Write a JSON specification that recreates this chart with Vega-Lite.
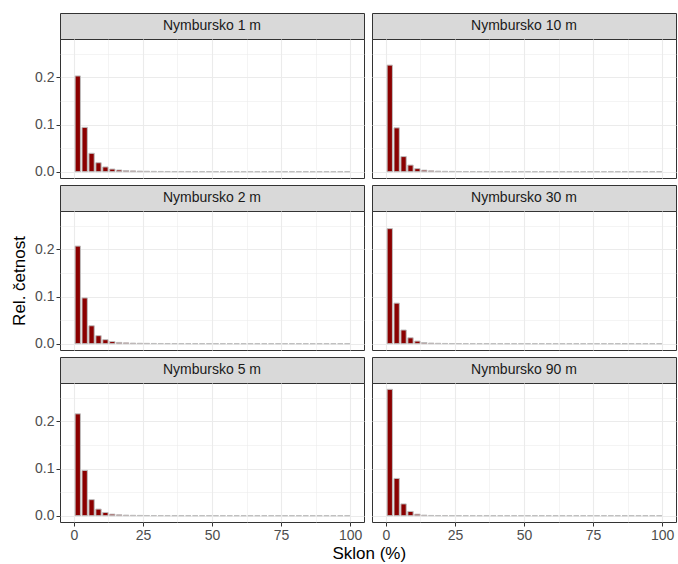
{
  "$schema": "https://vega.github.io/schema/vega-lite/v6.json",
  "padding": {"left": 10, "top": 12, "right": 2, "bottom": 2},
  "background": "white",
  "config": {
    "font": "Liberation Sans",
    "view": {"stroke": "#333333", "strokeWidth": 1},
    "axis": {
      "grid": true,
      "gridColor": "#ebebeb",
      "tickColor": "#333333",
      "tickSize": 4,
      "tickWidth": 1,
      "labelColor": "#4d4d4d",
      "labelFontSize": 14,
      "labelFont": "Liberation Sans",
      "labelPadding": 2,
      "titleFont": "Liberation Sans",
      "titleFontSize": 17,
      "titleFontWeight": "normal",
      "titleColor": "#000000",
      "titlePadding": 6
    }
  },
  "title": {"text": "Sklon (%)", "orient": "bottom", "anchor": "middle", "frame": "bounds", "dx": 26, "font": "Liberation Sans", "fontSize": 17, "fontWeight": "normal", "color": "#000000", "offset": 3},
  "datasets": {
    "d": [
      {"panel":"Nymbursko 1 m","lo":0,"hi":2.5,"f":0.203},{"panel":"Nymbursko 1 m","lo":2.5,"hi":5,"f":0.094},{"panel":"Nymbursko 1 m","lo":5,"hi":7.5,"f":0.039},{"panel":"Nymbursko 1 m","lo":7.5,"hi":10,"f":0.019},{"panel":"Nymbursko 1 m","lo":10,"hi":12.5,"f":0.010},{"panel":"Nymbursko 1 m","lo":12.5,"hi":15,"f":0.0056},{"panel":"Nymbursko 1 m","lo":15,"hi":17.5,"f":0.0036},{"panel":"Nymbursko 1 m","lo":17.5,"hi":20,"f":0.0024},{"panel":"Nymbursko 1 m","lo":20,"hi":22.5,"f":0.0017},{"panel":"Nymbursko 1 m","lo":22.5,"hi":25,"f":0.0012},{"panel":"Nymbursko 1 m","lo":25,"hi":27.5,"f":0.0009},{"panel":"Nymbursko 1 m","lo":27.5,"hi":30,"f":0.0007},{"panel":"Nymbursko 1 m","lo":30,"hi":32.5,"f":0.0005},{"panel":"Nymbursko 1 m","lo":32.5,"hi":35,"f":0.0004},{"panel":"Nymbursko 1 m","lo":35,"hi":37.5,"f":0.0003},{"panel":"Nymbursko 1 m","lo":37.5,"hi":40,"f":0.00025},{"panel":"Nymbursko 1 m","lo":40,"hi":42.5,"f":0.0002},{"panel":"Nymbursko 1 m","lo":42.5,"hi":45,"f":0.00015},{"panel":"Nymbursko 1 m","lo":45,"hi":47.5,"f":0.00012},{"panel":"Nymbursko 1 m","lo":47.5,"hi":50,"f":0.0001},{"panel":"Nymbursko 1 m","lo":50,"hi":52.5,"f":0.00008},{"panel":"Nymbursko 1 m","lo":52.5,"hi":55,"f":0.00006},{"panel":"Nymbursko 1 m","lo":55,"hi":57.5,"f":0.00005},{"panel":"Nymbursko 1 m","lo":57.5,"hi":60,"f":0.00004},{"panel":"Nymbursko 1 m","lo":60,"hi":62.5,"f":0.00003},{"panel":"Nymbursko 1 m","lo":62.5,"hi":65,"f":0.00003},{"panel":"Nymbursko 1 m","lo":65,"hi":67.5,"f":0.00002},{"panel":"Nymbursko 1 m","lo":67.5,"hi":70,"f":0.00002},{"panel":"Nymbursko 1 m","lo":70,"hi":72.5,"f":0.00001},{"panel":"Nymbursko 1 m","lo":72.5,"hi":75,"f":0.00001},{"panel":"Nymbursko 1 m","lo":75,"hi":77.5,"f":0.00001},{"panel":"Nymbursko 1 m","lo":77.5,"hi":80,"f":0.00001},{"panel":"Nymbursko 1 m","lo":80,"hi":82.5,"f":0},{"panel":"Nymbursko 1 m","lo":82.5,"hi":85,"f":0},{"panel":"Nymbursko 1 m","lo":85,"hi":87.5,"f":0},{"panel":"Nymbursko 1 m","lo":87.5,"hi":90,"f":0},{"panel":"Nymbursko 1 m","lo":90,"hi":92.5,"f":0},{"panel":"Nymbursko 1 m","lo":92.5,"hi":95,"f":0},{"panel":"Nymbursko 1 m","lo":95,"hi":97.5,"f":0},{"panel":"Nymbursko 1 m","lo":97.5,"hi":100,"f":0},

      {"panel":"Nymbursko 10 m","lo":0,"hi":2.5,"f":0.226},{"panel":"Nymbursko 10 m","lo":2.5,"hi":5,"f":0.093},{"panel":"Nymbursko 10 m","lo":5,"hi":7.5,"f":0.032},{"panel":"Nymbursko 10 m","lo":7.5,"hi":10,"f":0.014},{"panel":"Nymbursko 10 m","lo":10,"hi":12.5,"f":0.0065},{"panel":"Nymbursko 10 m","lo":12.5,"hi":15,"f":0.0033},{"panel":"Nymbursko 10 m","lo":15,"hi":17.5,"f":0.0019},{"panel":"Nymbursko 10 m","lo":17.5,"hi":20,"f":0.0012},{"panel":"Nymbursko 10 m","lo":20,"hi":22.5,"f":0.0008},{"panel":"Nymbursko 10 m","lo":22.5,"hi":25,"f":0.0006},{"panel":"Nymbursko 10 m","lo":25,"hi":27.5,"f":0.0004},{"panel":"Nymbursko 10 m","lo":27.5,"hi":30,"f":0.0003},{"panel":"Nymbursko 10 m","lo":30,"hi":32.5,"f":0.00022},{"panel":"Nymbursko 10 m","lo":32.5,"hi":35,"f":0.00016},{"panel":"Nymbursko 10 m","lo":35,"hi":37.5,"f":0.00012},{"panel":"Nymbursko 10 m","lo":37.5,"hi":40,"f":0.0001},{"panel":"Nymbursko 10 m","lo":40,"hi":42.5,"f":0.00008},{"panel":"Nymbursko 10 m","lo":42.5,"hi":45,"f":0.00006},{"panel":"Nymbursko 10 m","lo":45,"hi":47.5,"f":0.00005},{"panel":"Nymbursko 10 m","lo":47.5,"hi":50,"f":0.00004},{"panel":"Nymbursko 10 m","lo":50,"hi":52.5,"f":0.00003},{"panel":"Nymbursko 10 m","lo":52.5,"hi":55,"f":0.00002},{"panel":"Nymbursko 10 m","lo":55,"hi":57.5,"f":0.00002},{"panel":"Nymbursko 10 m","lo":57.5,"hi":60,"f":0.00001},{"panel":"Nymbursko 10 m","lo":60,"hi":62.5,"f":0.00001},{"panel":"Nymbursko 10 m","lo":62.5,"hi":65,"f":0.00001},{"panel":"Nymbursko 10 m","lo":65,"hi":67.5,"f":0},{"panel":"Nymbursko 10 m","lo":67.5,"hi":70,"f":0},{"panel":"Nymbursko 10 m","lo":70,"hi":72.5,"f":0},{"panel":"Nymbursko 10 m","lo":72.5,"hi":75,"f":0},{"panel":"Nymbursko 10 m","lo":75,"hi":77.5,"f":0},{"panel":"Nymbursko 10 m","lo":77.5,"hi":80,"f":0},{"panel":"Nymbursko 10 m","lo":80,"hi":82.5,"f":0},{"panel":"Nymbursko 10 m","lo":82.5,"hi":85,"f":0},{"panel":"Nymbursko 10 m","lo":85,"hi":87.5,"f":0},{"panel":"Nymbursko 10 m","lo":87.5,"hi":90,"f":0},{"panel":"Nymbursko 10 m","lo":90,"hi":92.5,"f":0},{"panel":"Nymbursko 10 m","lo":92.5,"hi":95,"f":0},{"panel":"Nymbursko 10 m","lo":95,"hi":97.5,"f":0},{"panel":"Nymbursko 10 m","lo":97.5,"hi":100,"f":0},

      {"panel":"Nymbursko 2 m","lo":0,"hi":2.5,"f":0.207},{"panel":"Nymbursko 2 m","lo":2.5,"hi":5,"f":0.097},{"panel":"Nymbursko 2 m","lo":5,"hi":7.5,"f":0.038},{"panel":"Nymbursko 2 m","lo":7.5,"hi":10,"f":0.017},{"panel":"Nymbursko 2 m","lo":10,"hi":12.5,"f":0.0085},{"panel":"Nymbursko 2 m","lo":12.5,"hi":15,"f":0.0045},{"panel":"Nymbursko 2 m","lo":15,"hi":17.5,"f":0.0027},{"panel":"Nymbursko 2 m","lo":17.5,"hi":20,"f":0.0018},{"panel":"Nymbursko 2 m","lo":20,"hi":22.5,"f":0.0012},{"panel":"Nymbursko 2 m","lo":22.5,"hi":25,"f":0.0009},{"panel":"Nymbursko 2 m","lo":25,"hi":27.5,"f":0.0007},{"panel":"Nymbursko 2 m","lo":27.5,"hi":30,"f":0.0005},{"panel":"Nymbursko 2 m","lo":30,"hi":32.5,"f":0.0004},{"panel":"Nymbursko 2 m","lo":32.5,"hi":35,"f":0.0003},{"panel":"Nymbursko 2 m","lo":35,"hi":37.5,"f":0.00022},{"panel":"Nymbursko 2 m","lo":37.5,"hi":40,"f":0.00017},{"panel":"Nymbursko 2 m","lo":40,"hi":42.5,"f":0.00013},{"panel":"Nymbursko 2 m","lo":42.5,"hi":45,"f":0.0001},{"panel":"Nymbursko 2 m","lo":45,"hi":47.5,"f":0.00008},{"panel":"Nymbursko 2 m","lo":47.5,"hi":50,"f":0.00006},{"panel":"Nymbursko 2 m","lo":50,"hi":52.5,"f":0.00005},{"panel":"Nymbursko 2 m","lo":52.5,"hi":55,"f":0.00004},{"panel":"Nymbursko 2 m","lo":55,"hi":57.5,"f":0.00003},{"panel":"Nymbursko 2 m","lo":57.5,"hi":60,"f":0.00002},{"panel":"Nymbursko 2 m","lo":60,"hi":62.5,"f":0.00002},{"panel":"Nymbursko 2 m","lo":62.5,"hi":65,"f":0.00001},{"panel":"Nymbursko 2 m","lo":65,"hi":67.5,"f":0.00001},{"panel":"Nymbursko 2 m","lo":67.5,"hi":70,"f":0.00001},{"panel":"Nymbursko 2 m","lo":70,"hi":72.5,"f":0},{"panel":"Nymbursko 2 m","lo":72.5,"hi":75,"f":0},{"panel":"Nymbursko 2 m","lo":75,"hi":77.5,"f":0},{"panel":"Nymbursko 2 m","lo":77.5,"hi":80,"f":0},{"panel":"Nymbursko 2 m","lo":80,"hi":82.5,"f":0},{"panel":"Nymbursko 2 m","lo":82.5,"hi":85,"f":0},{"panel":"Nymbursko 2 m","lo":85,"hi":87.5,"f":0},{"panel":"Nymbursko 2 m","lo":87.5,"hi":90,"f":0},{"panel":"Nymbursko 2 m","lo":90,"hi":92.5,"f":0},{"panel":"Nymbursko 2 m","lo":92.5,"hi":95,"f":0},{"panel":"Nymbursko 2 m","lo":95,"hi":97.5,"f":0},{"panel":"Nymbursko 2 m","lo":97.5,"hi":100,"f":0},

      {"panel":"Nymbursko 30 m","lo":0,"hi":2.5,"f":0.244},{"panel":"Nymbursko 30 m","lo":2.5,"hi":5,"f":0.086},{"panel":"Nymbursko 30 m","lo":5,"hi":7.5,"f":0.029},{"panel":"Nymbursko 30 m","lo":7.5,"hi":10,"f":0.0125},{"panel":"Nymbursko 30 m","lo":10,"hi":12.5,"f":0.0055},{"panel":"Nymbursko 30 m","lo":12.5,"hi":15,"f":0.0025},{"panel":"Nymbursko 30 m","lo":15,"hi":17.5,"f":0.0013},{"panel":"Nymbursko 30 m","lo":17.5,"hi":20,"f":0.0008},{"panel":"Nymbursko 30 m","lo":20,"hi":22.5,"f":0.0005},{"panel":"Nymbursko 30 m","lo":22.5,"hi":25,"f":0.0003},{"panel":"Nymbursko 30 m","lo":25,"hi":27.5,"f":0.0002},{"panel":"Nymbursko 30 m","lo":27.5,"hi":30,"f":0.00015},{"panel":"Nymbursko 30 m","lo":30,"hi":32.5,"f":0.0001},{"panel":"Nymbursko 30 m","lo":32.5,"hi":35,"f":0.00008},{"panel":"Nymbursko 30 m","lo":35,"hi":37.5,"f":0.00006},{"panel":"Nymbursko 30 m","lo":37.5,"hi":40,"f":0.00004},{"panel":"Nymbursko 30 m","lo":40,"hi":42.5,"f":0.00003},{"panel":"Nymbursko 30 m","lo":42.5,"hi":45,"f":0.00002},{"panel":"Nymbursko 30 m","lo":45,"hi":47.5,"f":0.00002},{"panel":"Nymbursko 30 m","lo":47.5,"hi":50,"f":0.00001},{"panel":"Nymbursko 30 m","lo":50,"hi":52.5,"f":0.00001},{"panel":"Nymbursko 30 m","lo":52.5,"hi":55,"f":0},{"panel":"Nymbursko 30 m","lo":55,"hi":57.5,"f":0},{"panel":"Nymbursko 30 m","lo":57.5,"hi":60,"f":0},{"panel":"Nymbursko 30 m","lo":60,"hi":62.5,"f":0},{"panel":"Nymbursko 30 m","lo":62.5,"hi":65,"f":0},{"panel":"Nymbursko 30 m","lo":65,"hi":67.5,"f":0},{"panel":"Nymbursko 30 m","lo":67.5,"hi":70,"f":0},{"panel":"Nymbursko 30 m","lo":70,"hi":72.5,"f":0},{"panel":"Nymbursko 30 m","lo":72.5,"hi":75,"f":0},{"panel":"Nymbursko 30 m","lo":75,"hi":77.5,"f":0},{"panel":"Nymbursko 30 m","lo":77.5,"hi":80,"f":0},{"panel":"Nymbursko 30 m","lo":80,"hi":82.5,"f":0},{"panel":"Nymbursko 30 m","lo":82.5,"hi":85,"f":0},{"panel":"Nymbursko 30 m","lo":85,"hi":87.5,"f":0},{"panel":"Nymbursko 30 m","lo":87.5,"hi":90,"f":0},{"panel":"Nymbursko 30 m","lo":90,"hi":92.5,"f":0},{"panel":"Nymbursko 30 m","lo":92.5,"hi":95,"f":0},{"panel":"Nymbursko 30 m","lo":95,"hi":97.5,"f":0},{"panel":"Nymbursko 30 m","lo":97.5,"hi":100,"f":0},

      {"panel":"Nymbursko 5 m","lo":0,"hi":2.5,"f":0.216},{"panel":"Nymbursko 5 m","lo":2.5,"hi":5,"f":0.096},{"panel":"Nymbursko 5 m","lo":5,"hi":7.5,"f":0.034},{"panel":"Nymbursko 5 m","lo":7.5,"hi":10,"f":0.014},{"panel":"Nymbursko 5 m","lo":10,"hi":12.5,"f":0.0068},{"panel":"Nymbursko 5 m","lo":12.5,"hi":15,"f":0.0033},{"panel":"Nymbursko 5 m","lo":15,"hi":17.5,"f":0.0019},{"panel":"Nymbursko 5 m","lo":17.5,"hi":20,"f":0.0012},{"panel":"Nymbursko 5 m","lo":20,"hi":22.5,"f":0.0008},{"panel":"Nymbursko 5 m","lo":22.5,"hi":25,"f":0.0006},{"panel":"Nymbursko 5 m","lo":25,"hi":27.5,"f":0.0004},{"panel":"Nymbursko 5 m","lo":27.5,"hi":30,"f":0.0003},{"panel":"Nymbursko 5 m","lo":30,"hi":32.5,"f":0.0002},{"panel":"Nymbursko 5 m","lo":32.5,"hi":35,"f":0.00015},{"panel":"Nymbursko 5 m","lo":35,"hi":37.5,"f":0.00011},{"panel":"Nymbursko 5 m","lo":37.5,"hi":40,"f":0.00008},{"panel":"Nymbursko 5 m","lo":40,"hi":42.5,"f":0.00006},{"panel":"Nymbursko 5 m","lo":42.5,"hi":45,"f":0.00005},{"panel":"Nymbursko 5 m","lo":45,"hi":47.5,"f":0.00004},{"panel":"Nymbursko 5 m","lo":47.5,"hi":50,"f":0.00003},{"panel":"Nymbursko 5 m","lo":50,"hi":52.5,"f":0.00002},{"panel":"Nymbursko 5 m","lo":52.5,"hi":55,"f":0.00002},{"panel":"Nymbursko 5 m","lo":55,"hi":57.5,"f":0.00001},{"panel":"Nymbursko 5 m","lo":57.5,"hi":60,"f":0.00001},{"panel":"Nymbursko 5 m","lo":60,"hi":62.5,"f":0.00001},{"panel":"Nymbursko 5 m","lo":62.5,"hi":65,"f":0},{"panel":"Nymbursko 5 m","lo":65,"hi":67.5,"f":0},{"panel":"Nymbursko 5 m","lo":67.5,"hi":70,"f":0},{"panel":"Nymbursko 5 m","lo":70,"hi":72.5,"f":0},{"panel":"Nymbursko 5 m","lo":72.5,"hi":75,"f":0},{"panel":"Nymbursko 5 m","lo":75,"hi":77.5,"f":0},{"panel":"Nymbursko 5 m","lo":77.5,"hi":80,"f":0},{"panel":"Nymbursko 5 m","lo":80,"hi":82.5,"f":0},{"panel":"Nymbursko 5 m","lo":82.5,"hi":85,"f":0},{"panel":"Nymbursko 5 m","lo":85,"hi":87.5,"f":0},{"panel":"Nymbursko 5 m","lo":87.5,"hi":90,"f":0},{"panel":"Nymbursko 5 m","lo":90,"hi":92.5,"f":0},{"panel":"Nymbursko 5 m","lo":92.5,"hi":95,"f":0},{"panel":"Nymbursko 5 m","lo":95,"hi":97.5,"f":0},{"panel":"Nymbursko 5 m","lo":97.5,"hi":100,"f":0},

      {"panel":"Nymbursko 90 m","lo":0,"hi":2.5,"f":0.268},{"panel":"Nymbursko 90 m","lo":2.5,"hi":5,"f":0.079},{"panel":"Nymbursko 90 m","lo":5,"hi":7.5,"f":0.025},{"panel":"Nymbursko 90 m","lo":7.5,"hi":10,"f":0.009},{"panel":"Nymbursko 90 m","lo":10,"hi":12.5,"f":0.0032},{"panel":"Nymbursko 90 m","lo":12.5,"hi":15,"f":0.0012},{"panel":"Nymbursko 90 m","lo":15,"hi":17.5,"f":0.0005},{"panel":"Nymbursko 90 m","lo":17.5,"hi":20,"f":0.0003},{"panel":"Nymbursko 90 m","lo":20,"hi":22.5,"f":0.0002},{"panel":"Nymbursko 90 m","lo":22.5,"hi":25,"f":0.0001},{"panel":"Nymbursko 90 m","lo":25,"hi":27.5,"f":0.00007},{"panel":"Nymbursko 90 m","lo":27.5,"hi":30,"f":0.00005},{"panel":"Nymbursko 90 m","lo":30,"hi":32.5,"f":0.00003},{"panel":"Nymbursko 90 m","lo":32.5,"hi":35,"f":0.00002},{"panel":"Nymbursko 90 m","lo":35,"hi":37.5,"f":0.00001},{"panel":"Nymbursko 90 m","lo":37.5,"hi":40,"f":0.00001},{"panel":"Nymbursko 90 m","lo":40,"hi":42.5,"f":0},{"panel":"Nymbursko 90 m","lo":42.5,"hi":45,"f":0},{"panel":"Nymbursko 90 m","lo":45,"hi":47.5,"f":0},{"panel":"Nymbursko 90 m","lo":47.5,"hi":50,"f":0},{"panel":"Nymbursko 90 m","lo":50,"hi":52.5,"f":0},{"panel":"Nymbursko 90 m","lo":52.5,"hi":55,"f":0},{"panel":"Nymbursko 90 m","lo":55,"hi":57.5,"f":0},{"panel":"Nymbursko 90 m","lo":57.5,"hi":60,"f":0},{"panel":"Nymbursko 90 m","lo":60,"hi":62.5,"f":0},{"panel":"Nymbursko 90 m","lo":62.5,"hi":65,"f":0},{"panel":"Nymbursko 90 m","lo":65,"hi":67.5,"f":0},{"panel":"Nymbursko 90 m","lo":67.5,"hi":70,"f":0},{"panel":"Nymbursko 90 m","lo":70,"hi":72.5,"f":0},{"panel":"Nymbursko 90 m","lo":72.5,"hi":75,"f":0},{"panel":"Nymbursko 90 m","lo":75,"hi":77.5,"f":0},{"panel":"Nymbursko 90 m","lo":77.5,"hi":80,"f":0},{"panel":"Nymbursko 90 m","lo":80,"hi":82.5,"f":0},{"panel":"Nymbursko 90 m","lo":82.5,"hi":85,"f":0},{"panel":"Nymbursko 90 m","lo":85,"hi":87.5,"f":0},{"panel":"Nymbursko 90 m","lo":87.5,"hi":90,"f":0},{"panel":"Nymbursko 90 m","lo":90,"hi":92.5,"f":0},{"panel":"Nymbursko 90 m","lo":92.5,"hi":95,"f":0},{"panel":"Nymbursko 90 m","lo":95,"hi":97.5,"f":0},{"panel":"Nymbursko 90 m","lo":97.5,"hi":100,"f":0}
    ]
  },
  "columns": 2,
  "spacing": {"row": 0, "column": 8},
  "bounds": "flush",
  "concat": [
    {"data": {"name": "d"}, "transform": [{"filter": "datum.panel === 'Nymbursko 1 m'"}, {"aggregate": [{"op": "count", "as": "n"}], "groupby": ["panel"]}], "width": 304, "height": 26, "view": {"fill": "#d9d9d9", "stroke": "#333333"}, "mark": {"type": "text", "fontSize": 14, "color": "#1a1a1a", "font": "Liberation Sans"}, "encoding": {"text": {"field": "panel"}}},
    {"data": {"name": "d"}, "transform": [{"filter": "datum.panel === 'Nymbursko 10 m'"}, {"aggregate": [{"op": "count", "as": "n"}], "groupby": ["panel"]}], "width": 304, "height": 26, "view": {"fill": "#d9d9d9", "stroke": "#333333"}, "mark": {"type": "text", "fontSize": 14, "color": "#1a1a1a", "font": "Liberation Sans"}, "encoding": {"text": {"field": "panel"}}},

    {"data": {"name": "d"}, "transform": [{"filter": "datum.panel === 'Nymbursko 1 m'"}], "width": 304, "height": 139,
     "mark": {"type": "bar", "color": "#8b0000", "stroke": "#bebebe", "strokeWidth": 1, "binSpacing": 1.6},
     "encoding": {
       "x": {"field": "lo", "type": "quantitative", "bin": "binned", "scale": {"domain": [-5, 105], "nice": false, "zero": false}, "axis": {"grid": true, "values": [0,12.5,25,37.5,50,62.5,75,87.5,100], "labels": false, "ticks": false, "domain": false, "title": null, "gridWidth": {"condition": {"test": "datum.value % 25 === 0", "value": 1.1}, "value": 0.55}}},
       "x2": {"field": "hi"},
       "y": {"field": "f", "type": "quantitative", "scale": {"domain": [-0.0134, 0.2814], "nice": false, "zero": false}, "axis": {"grid": true, "values": [0,0.05,0.1,0.15,0.2,0.25], "domain": false, "title": null, "labelExpr": "round(datum.value*100) % 10 === 0 ? format(datum.value, '.1f') : ''", "tickOpacity": {"condition": {"test": "round(datum.value*100) % 10 === 0", "value": 1}, "value": 0}, "gridWidth": {"condition": {"test": "round(datum.value*100) % 10 === 0", "value": 1.1}, "value": 0.55}}},
       "y2": {"datum": 0}
     }},
    {"data": {"name": "d"}, "transform": [{"filter": "datum.panel === 'Nymbursko 10 m'"}], "width": 304, "height": 139,
     "mark": {"type": "bar", "color": "#8b0000", "stroke": "#bebebe", "strokeWidth": 1, "binSpacing": 1.6},
     "encoding": {
       "x": {"field": "lo", "type": "quantitative", "bin": "binned", "scale": {"domain": [-5, 105], "nice": false, "zero": false}, "axis": {"grid": true, "values": [0,12.5,25,37.5,50,62.5,75,87.5,100], "labels": false, "ticks": false, "domain": false, "title": null, "gridWidth": {"condition": {"test": "datum.value % 25 === 0", "value": 1.1}, "value": 0.55}}},
       "x2": {"field": "hi"},
       "y": {"field": "f", "type": "quantitative", "scale": {"domain": [-0.0134, 0.2814], "nice": false, "zero": false}, "axis": {"grid": true, "values": [0,0.05,0.1,0.15,0.2,0.25], "labels": false, "ticks": false, "domain": false, "title": null, "gridWidth": {"condition": {"test": "round(datum.value*100) % 10 === 0", "value": 1.1}, "value": 0.55}}},
       "y2": {"datum": 0}
     }},

    {"data": {"name": "d"}, "transform": [{"filter": "false"}], "width": 304, "height": 7, "view": {"stroke": null}, "mark": "point", "encoding": {}},
    {"data": {"name": "d"}, "transform": [{"filter": "false"}], "width": 304, "height": 7, "view": {"stroke": null}, "mark": "point", "encoding": {}},

    {"data": {"name": "d"}, "transform": [{"filter": "datum.panel === 'Nymbursko 2 m'"}, {"aggregate": [{"op": "count", "as": "n"}], "groupby": ["panel"]}], "width": 304, "height": 26, "view": {"fill": "#d9d9d9", "stroke": "#333333"}, "mark": {"type": "text", "fontSize": 14, "color": "#1a1a1a", "font": "Liberation Sans"}, "encoding": {"text": {"field": "panel"}}},
    {"data": {"name": "d"}, "transform": [{"filter": "datum.panel === 'Nymbursko 30 m'"}, {"aggregate": [{"op": "count", "as": "n"}], "groupby": ["panel"]}], "width": 304, "height": 26, "view": {"fill": "#d9d9d9", "stroke": "#333333"}, "mark": {"type": "text", "fontSize": 14, "color": "#1a1a1a", "font": "Liberation Sans"}, "encoding": {"text": {"field": "panel"}}},

    {"data": {"name": "d"}, "transform": [{"filter": "datum.panel === 'Nymbursko 2 m'"}], "width": 304, "height": 139,
     "mark": {"type": "bar", "color": "#8b0000", "stroke": "#bebebe", "strokeWidth": 1, "binSpacing": 1.6},
     "encoding": {
       "x": {"field": "lo", "type": "quantitative", "bin": "binned", "scale": {"domain": [-5, 105], "nice": false, "zero": false}, "axis": {"grid": true, "values": [0,12.5,25,37.5,50,62.5,75,87.5,100], "labels": false, "ticks": false, "domain": false, "title": null, "gridWidth": {"condition": {"test": "datum.value % 25 === 0", "value": 1.1}, "value": 0.55}}},
       "x2": {"field": "hi"},
       "y": {"field": "f", "type": "quantitative", "scale": {"domain": [-0.0134, 0.2814], "nice": false, "zero": false}, "axis": {"grid": true, "values": [0,0.05,0.1,0.15,0.2,0.25], "domain": false, "title": "Rel. četnost", "labelExpr": "round(datum.value*100) % 10 === 0 ? format(datum.value, '.1f') : ''", "tickOpacity": {"condition": {"test": "round(datum.value*100) % 10 === 0", "value": 1}, "value": 0}, "gridWidth": {"condition": {"test": "round(datum.value*100) % 10 === 0", "value": 1.1}, "value": 0.55}}},
       "y2": {"datum": 0}
     }},
    {"data": {"name": "d"}, "transform": [{"filter": "datum.panel === 'Nymbursko 30 m'"}], "width": 304, "height": 139,
     "mark": {"type": "bar", "color": "#8b0000", "stroke": "#bebebe", "strokeWidth": 1, "binSpacing": 1.6},
     "encoding": {
       "x": {"field": "lo", "type": "quantitative", "bin": "binned", "scale": {"domain": [-5, 105], "nice": false, "zero": false}, "axis": {"grid": true, "values": [0,12.5,25,37.5,50,62.5,75,87.5,100], "labels": false, "ticks": false, "domain": false, "title": null, "gridWidth": {"condition": {"test": "datum.value % 25 === 0", "value": 1.1}, "value": 0.55}}},
       "x2": {"field": "hi"},
       "y": {"field": "f", "type": "quantitative", "scale": {"domain": [-0.0134, 0.2814], "nice": false, "zero": false}, "axis": {"grid": true, "values": [0,0.05,0.1,0.15,0.2,0.25], "labels": false, "ticks": false, "domain": false, "title": null, "gridWidth": {"condition": {"test": "round(datum.value*100) % 10 === 0", "value": 1.1}, "value": 0.55}}},
       "y2": {"datum": 0}
     }},

    {"data": {"name": "d"}, "transform": [{"filter": "false"}], "width": 304, "height": 7, "view": {"stroke": null}, "mark": "point", "encoding": {}},
    {"data": {"name": "d"}, "transform": [{"filter": "false"}], "width": 304, "height": 7, "view": {"stroke": null}, "mark": "point", "encoding": {}},

    {"data": {"name": "d"}, "transform": [{"filter": "datum.panel === 'Nymbursko 5 m'"}, {"aggregate": [{"op": "count", "as": "n"}], "groupby": ["panel"]}], "width": 304, "height": 26, "view": {"fill": "#d9d9d9", "stroke": "#333333"}, "mark": {"type": "text", "fontSize": 14, "color": "#1a1a1a", "font": "Liberation Sans"}, "encoding": {"text": {"field": "panel"}}},
    {"data": {"name": "d"}, "transform": [{"filter": "datum.panel === 'Nymbursko 90 m'"}, {"aggregate": [{"op": "count", "as": "n"}], "groupby": ["panel"]}], "width": 304, "height": 26, "view": {"fill": "#d9d9d9", "stroke": "#333333"}, "mark": {"type": "text", "fontSize": 14, "color": "#1a1a1a", "font": "Liberation Sans"}, "encoding": {"text": {"field": "panel"}}},

    {"data": {"name": "d"}, "transform": [{"filter": "datum.panel === 'Nymbursko 5 m'"}], "width": 304, "height": 139,
     "mark": {"type": "bar", "color": "#8b0000", "stroke": "#bebebe", "strokeWidth": 1, "binSpacing": 1.6},
     "encoding": {
       "x": {"field": "lo", "type": "quantitative", "bin": "binned", "scale": {"domain": [-5, 105], "nice": false, "zero": false}, "axis": {"grid": true, "values": [0,12.5,25,37.5,50,62.5,75,87.5,100], "domain": false, "title": null, "labelExpr": "datum.value % 25 === 0 ? datum.label : ''", "tickOpacity": {"condition": {"test": "datum.value % 25 === 0", "value": 1}, "value": 0}, "gridWidth": {"condition": {"test": "datum.value % 25 === 0", "value": 1.1}, "value": 0.55}}},
       "x2": {"field": "hi"},
       "y": {"field": "f", "type": "quantitative", "scale": {"domain": [-0.0134, 0.2814], "nice": false, "zero": false}, "axis": {"grid": true, "values": [0,0.05,0.1,0.15,0.2,0.25], "domain": false, "title": null, "labelExpr": "round(datum.value*100) % 10 === 0 ? format(datum.value, '.1f') : ''", "tickOpacity": {"condition": {"test": "round(datum.value*100) % 10 === 0", "value": 1}, "value": 0}, "gridWidth": {"condition": {"test": "round(datum.value*100) % 10 === 0", "value": 1.1}, "value": 0.55}}},
       "y2": {"datum": 0}
     }},
    {"data": {"name": "d"}, "transform": [{"filter": "datum.panel === 'Nymbursko 90 m'"}], "width": 304, "height": 139,
     "mark": {"type": "bar", "color": "#8b0000", "stroke": "#bebebe", "strokeWidth": 1, "binSpacing": 1.6},
     "encoding": {
       "x": {"field": "lo", "type": "quantitative", "bin": "binned", "scale": {"domain": [-5, 105], "nice": false, "zero": false}, "axis": {"grid": true, "values": [0,12.5,25,37.5,50,62.5,75,87.5,100], "domain": false, "title": null, "labelExpr": "datum.value % 25 === 0 ? datum.label : ''", "tickOpacity": {"condition": {"test": "datum.value % 25 === 0", "value": 1}, "value": 0}, "gridWidth": {"condition": {"test": "datum.value % 25 === 0", "value": 1.1}, "value": 0.55}}},
       "x2": {"field": "hi"},
       "y": {"field": "f", "type": "quantitative", "scale": {"domain": [-0.0134, 0.2814], "nice": false, "zero": false}, "axis": {"grid": true, "values": [0,0.05,0.1,0.15,0.2,0.25], "labels": false, "ticks": false, "domain": false, "title": null, "gridWidth": {"condition": {"test": "round(datum.value*100) % 10 === 0", "value": 1.1}, "value": 0.55}}},
       "y2": {"datum": 0}
     }}
  ]
}
